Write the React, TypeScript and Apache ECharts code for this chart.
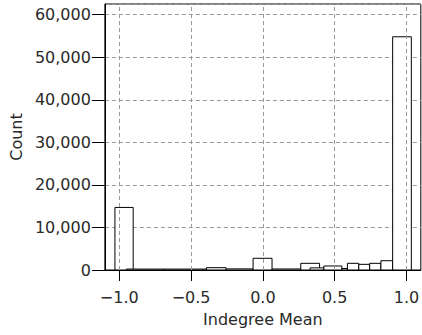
import React, { useEffect, useRef } from "react";
import * as echarts from "echarts";

// Histogram bins: left edge, right edge, count
const binStart = [-1.03, -0.95, -0.69, -0.393, -0.256, -0.068, 0.064, 0.264, 0.329, 0.425, 0.55, 0.589, 0.668, 0.744, 0.822, 0.904];
const binEnd = [-0.903, -0.69, -0.393, -0.256, -0.068, 0.064, 0.264, 0.395, 0.425, 0.55, 0.589, 0.668, 0.744, 0.822, 0.904, 1.034];
const counts = [14700, 220, 220, 540, 260, 2750, 240, 1570, 500, 940, 350, 1570, 1330, 1570, 2180, 54800];

const xTicks = [-1.0, -0.5, 0.0, 0.5, 1.0];
const xName = "Indegree Mean";
const yName = "Count";

const FONT = "DejaVu Sans";
const TEXT = "#2a2a2a";

export default function App() {
  const ref = useRef<HTMLDivElement>(null);

  useEffect(() => {
    document.body.style.margin = "0";
    const chart = echarts.init(ref.current!, null, { renderer: "svg" });
    const data = binStart.map((s, i) => [s, binEnd[i], counts[i]]);
    chart.setOption({
      animation: false,
      grid: {
        left: 101,
        right: 1,
        top: 4,
        bottom: 65,
        show: true,
        borderColor: "#000",
        borderWidth: 1,
        backgroundColor: "transparent",
      },
      xAxis: {
        type: "value",
        min: -1.1,
        max: 1.1,
        name: xName,
        nameLocation: "middle",
        nameGap: 41,
        nameTextStyle: { fontFamily: FONT, fontSize: 16, color: TEXT },
        axisLine: { show: true, onZero: false, lineStyle: { color: "#000", width: 1 } },
        axisTick: { show: true, inside: false, length: 11, customValues: xTicks, lineStyle: { color: "#000" } },
        axisLabel: {
          customValues: xTicks,
          margin: 19,
          fontFamily: FONT,
          fontSize: 16,
          color: TEXT,
          formatter: (v: number) => (v < 0 ? "\u2212" + Math.abs(v).toFixed(1) : v.toFixed(1)),
        },
        splitLine: { show: false },
      },
      yAxis: {
        type: "value",
        min: 0,
        max: 62500,
        interval: 10000,
        name: yName,
        nameLocation: "middle",
        nameGap: 74,
        nameTextStyle: { fontFamily: FONT, fontSize: 16, color: TEXT },
        axisLine: { show: true, onZero: false, lineStyle: { color: "#000", width: 1 } },
        axisTick: { show: true, length: 13, lineStyle: { color: "#000" } },
        axisLabel: {
          margin: 14,
          fontFamily: FONT,
          fontSize: 16,
          color: TEXT,
          showMaxLabel: false,
          formatter: (v: number) => v.toLocaleString("en-US"),
        },
        splitLine: { show: true, lineStyle: { color: "#9a9a9a", type: [4, 3], width: 1 } },
      },
      series: [
        {
          type: "line",
          data: [],
          z: 1,
          silent: true,
          markLine: {
            silent: true,
            symbol: "none",
            label: { show: false },
            lineStyle: { color: "#9a9a9a", type: [4, 3], width: 1 },
            data: xTicks.map((v) => ({ xAxis: v })),
          },
        },
        {
          type: "custom",
          z: 3,
          data,
          encode: { x: [0, 1], y: 2 },
          renderItem: (_params: any, api: any) => {
            const p0 = api.coord([api.value(0), api.value(2)]);
            const p1 = api.coord([api.value(1), 0]);
            return {
              type: "rect",
              shape: { x: p0[0], y: p0[1], width: p1[0] - p0[0], height: p1[1] - p0[1] },
              style: { fill: "#fff", stroke: "#000", lineWidth: 1 },
            };
          },
        },
      ],
    });
    return () => chart.dispose();
  }, []);

  return <div ref={ref} style={{ width: 422, height: 335 }} />;
}
